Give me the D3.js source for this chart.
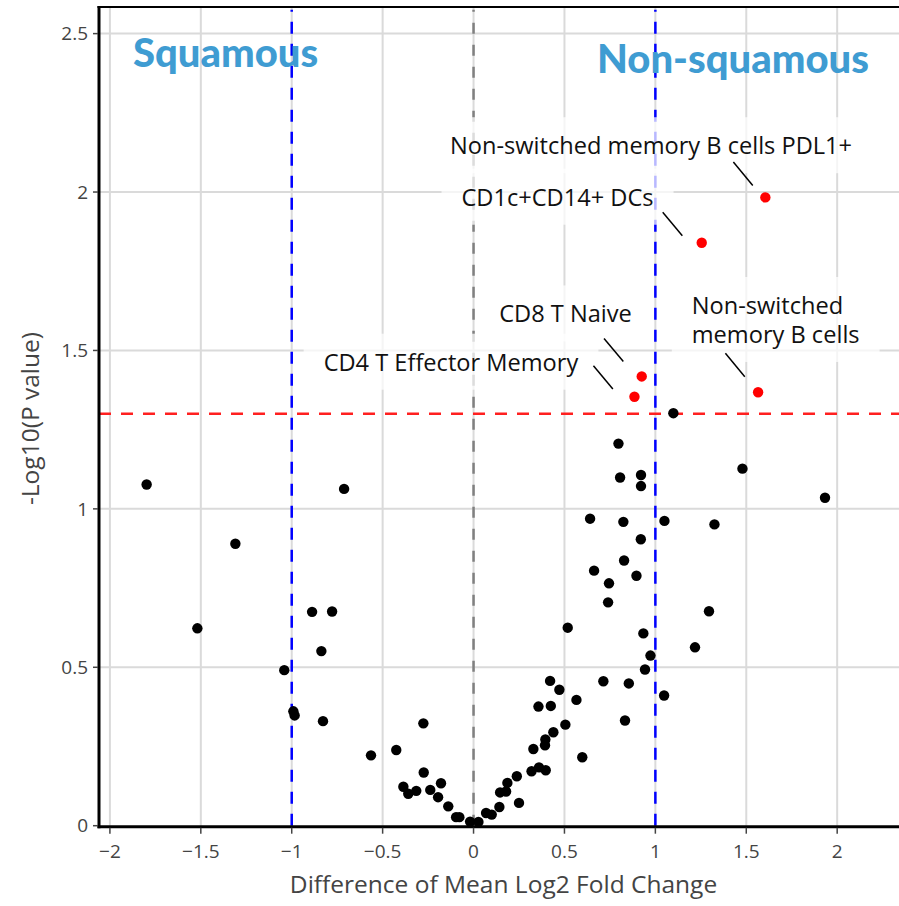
<!DOCTYPE html>
<html>
<head>
<meta charset="utf-8">
<script src="https://cdn.jsdelivr.net/npm/d3@7"></script>
<style>
  html, body { margin: 0; padding: 0; background: #fff; }
  svg { display: block; }
</style>
</head>
<body>
<div id="chart"></div>
<script>
// ---------- data ----------
// non-significant cell populations (black)
const nsX = [-1.798, -0.712, -1.310, -1.519, -0.888, -0.778, -0.837, -1.041, -0.991, -0.984,
  -0.828, -0.564, -0.425, -0.276, -0.274, -0.386, -0.359, -0.315, -0.238, -0.179,
  -0.195, -0.139, -0.096, -0.078, -0.019, 0.027, 0.069, 0.100, 0.142, 0.146,
  0.179, 0.186, 0.238, 0.250, 0.319, 0.360, 0.397, 0.329, 0.393, 0.395,
  0.439, 0.505, 0.357, 0.425, 0.566, 0.421, 0.472, 0.598, 0.714, 0.854,
  0.833, 1.048, 0.943, 0.973, 1.218, 0.934, 0.518, 1.295, 0.740, 0.745,
  0.896, 0.663, 0.828, 0.920, 0.641, 0.824, 1.050, 1.325, 0.806, 0.921,
  0.921, 1.479, 1.933, 0.797, 1.099];
const nsY = [1.077, 1.063, 0.890, 0.623, 0.675, 0.676, 0.551, 0.491, 0.361, 0.348,
  0.330, 0.222, 0.239, 0.323, 0.168, 0.123, 0.101, 0.110, 0.113, 0.134,
  0.090, 0.061, 0.027, 0.027, 0.013, 0.012, 0.040, 0.035, 0.059, 0.105,
  0.108, 0.135, 0.156, 0.072, 0.172, 0.184, 0.175, 0.242, 0.254, 0.272,
  0.295, 0.319, 0.376, 0.378, 0.397, 0.457, 0.429, 0.216, 0.456, 0.449,
  0.332, 0.411, 0.493, 0.537, 0.563, 0.607, 0.625, 0.677, 0.705, 0.765,
  0.789, 0.805, 0.837, 0.904, 0.969, 0.959, 0.962, 0.951, 1.099, 1.107,
  1.072, 1.127, 1.035, 1.206, 1.302];

// significant populations (red, labelled)
const sigNames = ["Non-switched memory B cells PDL1+", "CD1c+CD14+ DCs", "CD8 T Naive",
  "CD4 T Effector Memory", "Non-switched\nmemory B cells"];
const sigX = [1.605, 1.255, 0.925, 0.885, 1.565];
const sigY = [1.983, 1.840, 1.418, 1.354, 1.368];

const xTicks = [-2, -1.5, -1, -0.5, 0, 0.5, 1, 1.5, 2];
const yTicks = [0, 0.5, 1, 1.5, 2, 2.5];
const pThreshold = 1.3;      // -log10(0.05)
const fcThresholds = [-1, 1];
const groupLabels = ["Squamous", "Non-squamous"];

// ---------- layout ----------
const W = 899, H = 906;
const mLeft = 99, mRight = 899, mTop = 7, mBottom = 825.7;
const x = d3.scaleLinear().domain([-2.06, 2.34]).range([mLeft, mRight]);
const y = d3.scaleLinear().domain([0, 2.584]).range([mBottom, mTop]);

const svg = d3.select("#chart").append("svg").attr("width", W).attr("height", H);

const tickFont = "'Open Sans', 'Noto Sans', sans-serif";

// grid
const grid = svg.append("g");
grid.selectAll("line.gx").data(xTicks).join("line")
  .attr("x1", d => x(d)).attr("x2", d => x(d)).attr("y1", mTop).attr("y2", mBottom)
  .attr("stroke", "#dadada").attr("stroke-width", 2);
grid.selectAll("line.gy").data(yTicks.filter(d => d > 0)).join("line")
  .attr("x1", mLeft).attr("x2", mRight).attr("y1", d => y(d)).attr("y2", d => y(d))
  .attr("stroke", "#dadada").attr("stroke-width", 2);

// reference lines
const yTopLine = 2.575;
svg.append("line")
  .attr("x1", x(0)).attr("x2", x(0)).attr("y1", y(0)).attr("y2", y(yTopLine))
  .attr("stroke", "#808080").attr("stroke-width", 2.5).attr("stroke-dasharray", "11,11");
svg.selectAll("line.fc").data(fcThresholds).join("line")
  .attr("x1", d => x(d)).attr("x2", d => x(d)).attr("y1", y(0)).attr("y2", y(yTopLine))
  .attr("stroke", "#0000ff").attr("stroke-width", 2.5).attr("stroke-dasharray", "12,10");
svg.append("line")
  .attr("x1", mLeft).attr("x2", mRight).attr("y1", y(pThreshold)).attr("y2", y(pThreshold))
  .attr("stroke", "#ff2020").attr("stroke-width", 2.5).attr("stroke-dasharray", "12,10");

// annotation layout (pixel offsets relative to each labelled point)
const annLayout = [
  {tx: -114.3, ty: -43.2, anchor: "middle", l1: [-32, -35.4], l2: [-12.6, -12]},
  {tx: -144.2, ty: -37,   anchor: "middle", l1: [-39, -30.4], l2: [-19.4, -7]},
  {tx: -76.2,  ty: -54,   anchor: "middle", l1: [-37.7, -38], l2: [-18.4, -15]},
  {tx: -183.5, ty: -26,   anchor: "middle", l1: [-41, -31],   l2: [-21.6, -7.7]},
  {tx: -66.3,  ty: -78.3, anchor: "start",  l1: [-32.7, -39], l2: [-13.3, -15.6]}
];
const annFont = "'Open Sans', 'Noto Sans', sans-serif";
const annSize = 23.6;
const lineGap = 29;

const sig = sigNames.map((n, i) => ({name: n, x: sigX[i], y: sigY[i], lay: annLayout[i]}));

// label background boxes + text
const boxG = svg.append("g");
const textG = svg.append("g");
sig.forEach(d => {
  const px = x(d.x), py = y(d.y);
  const lines = d.name.split("\n");
  d.textNodes = lines.map((ln, j) => textG.append("text")
    .attr("font-family", annFont).attr("font-size", annSize).attr("fill", "#111")
    .attr("text-anchor", d.lay.anchor)
    .attr("x", px + d.lay.tx).attr("y", py + d.lay.ty + j * lineGap).text(ln));
});

// axes lines
svg.append("line").attr("x1", mLeft).attr("x2", mLeft).attr("y1", mTop - 1).attr("y2", mBottom + 2.5)
  .attr("stroke", "#000").attr("stroke-width", 3);
svg.append("line").attr("x1", mLeft - 1.5).attr("x2", mRight).attr("y1", mBottom + 1).attr("y2", mBottom + 1)
  .attr("stroke", "#000").attr("stroke-width", 3);
svg.append("line").attr("x1", mLeft - 1.5).attr("x2", mRight).attr("y1", mTop).attr("y2", mTop)
  .attr("stroke", "#000").attr("stroke-width", 2);

// points
svg.append("g").selectAll("circle").data(nsX.map((v, i) => [v, nsY[i]])).join("circle")
  .attr("cx", d => x(d[0])).attr("cy", d => y(d[1])).attr("r", 5.2).attr("fill", "#000");
svg.append("g").selectAll("circle").data(sig).join("circle")
  .attr("cx", d => x(d.x)).attr("cy", d => y(d.y)).attr("r", 5.2).attr("fill", "#ff0000");

// annotation connector lines
svg.append("g").selectAll("line").data(sig).join("line")
  .attr("x1", d => x(d.x) + d.lay.l1[0]).attr("y1", d => y(d.y) + d.lay.l1[1])
  .attr("x2", d => x(d.x) + d.lay.l2[0]).attr("y2", d => y(d.y) + d.lay.l2[1])
  .attr("stroke", "#000").attr("stroke-width", 1.5);

// background boxes sized from text
sig.forEach(d => {
  const bs = d.textNodes.map(t => t.node().getBBox());
  const x0 = d3.min(bs, b => b.x), x1 = d3.max(bs, b => b.x + b.width);
  const y0 = d3.min(bs, b => b.y), y1 = d3.max(bs, b => b.y + b.height);
  boxG.append("rect")
    .attr("x", x0 - 20).attr("y", y0 - 12).attr("width", x1 - x0 + 40).attr("height", y1 - y0 + 24)
    .attr("fill", "#fff").attr("opacity", 0.72);
});

// ticks
const tickG = svg.append("g").attr("font-family", tickFont).attr("font-size", 19).attr("fill", "#444");
const fmt = d => (d < 0 ? "\u2212" : "") + String(Math.abs(d));
xTicks.forEach(d => {
  tickG.append("line").attr("x1", x(d)).attr("x2", x(d)).attr("y1", mBottom + 2).attr("y2", mBottom + 8)
    .attr("stroke", "#444").attr("stroke-width", 1.5);
  tickG.append("text").attr("x", x(d)).attr("y", 858).attr("text-anchor", "middle").text(fmt(d));
});
yTicks.forEach(d => {
  tickG.append("line").attr("x1", mLeft - 6).attr("x2", mLeft - 1).attr("y1", y(d)).attr("y2", y(d))
    .attr("stroke", "#444").attr("stroke-width", 1.5);
  tickG.append("text").attr("x", 88).attr("y", y(d)).attr("dy", "0.35em").attr("text-anchor", "end").text(fmt(d));
});

// axis titles
svg.append("text").attr("x", 503.5).attr("y", 893).attr("text-anchor", "middle")
  .attr("font-family", tickFont).attr("font-size", 24.5).attr("fill", "#444")
  .text("Difference of Mean Log2 Fold Change");
svg.append("text").attr("transform", "translate(30,418.5) rotate(-90)").attr("text-anchor", "middle")
  .attr("dy", "0.35em")
  .attr("font-family", tickFont).attr("font-size", 24.5).attr("fill", "#444")
  .text("-Log10(P value)");

// group labels
const grpFont = "Lato, 'Open Sans', sans-serif";
svg.append("text").attr("x", 133).attr("y", 66.5).attr("font-family", grpFont).attr("font-weight", 900)
  .attr("font-size", 40).attr("fill", "#3f9cd2").text(groupLabels[0]);
svg.append("text").attr("x", 597).attr("y", 73.3).attr("font-family", grpFont).attr("font-weight", 900)
  .attr("font-size", 40).attr("fill", "#3f9cd2").text(groupLabels[1]);
</script>
</body>
</html>
